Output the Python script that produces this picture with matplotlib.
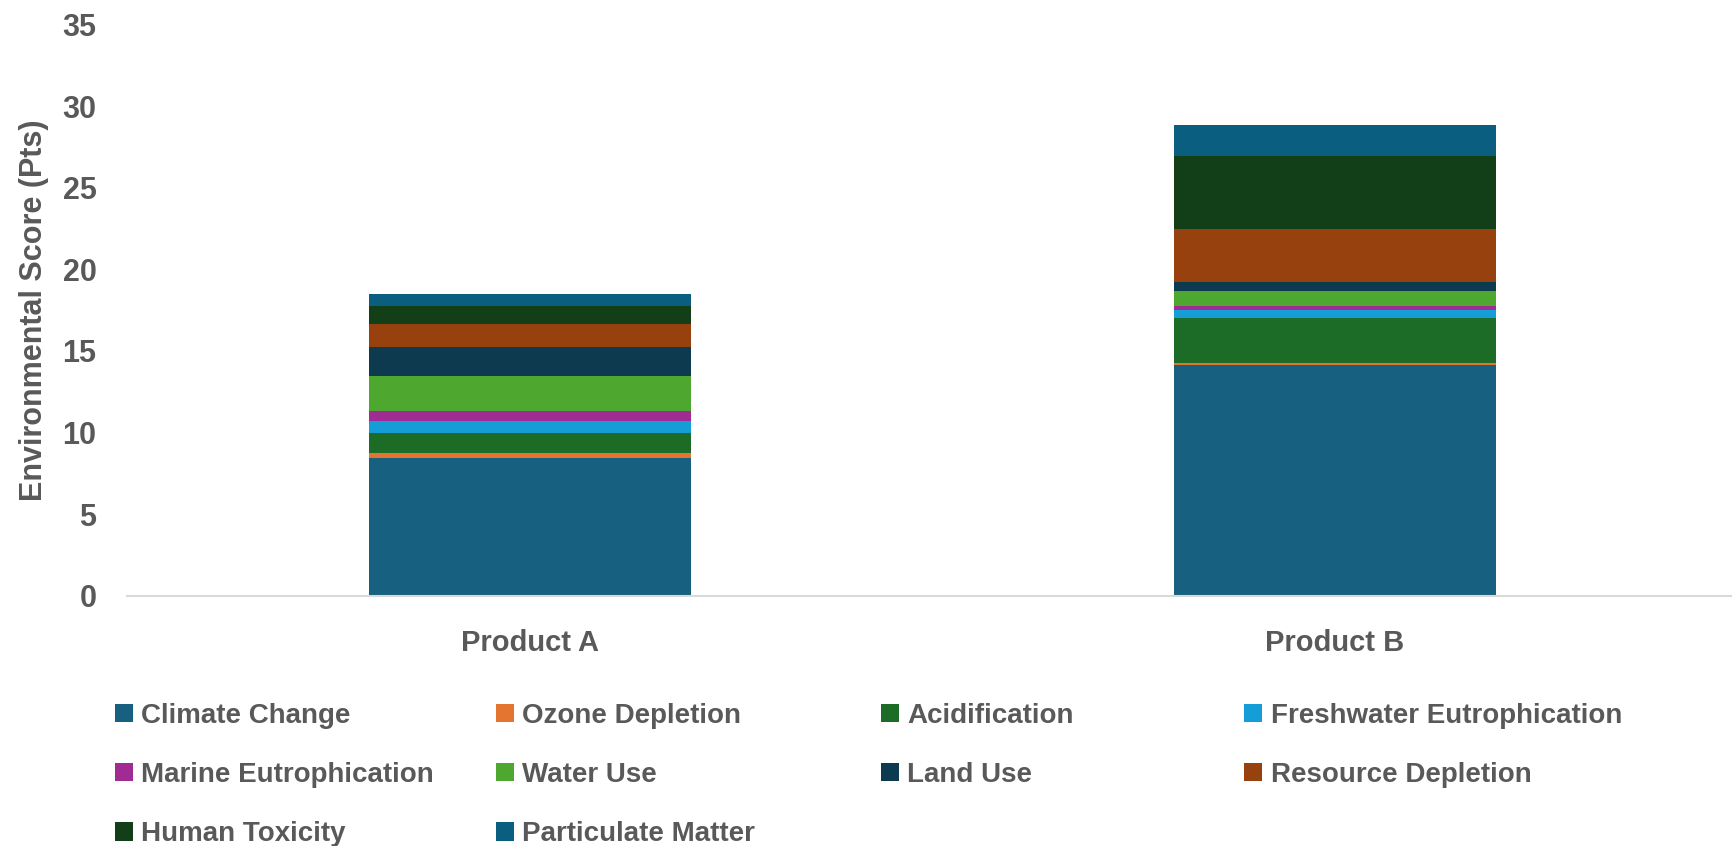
import matplotlib.pyplot as plt
import numpy as np

products = ['Product A', 'Product B']
categories = ['Climate Change', 'Ozone Depletion', 'Acidification', 'Freshwater Eutrophication',
              'Marine Eutrophication', 'Water Use', 'Land Use', 'Resource Depletion',
              'Human Toxicity', 'Particulate Matter']
product_a = [8.41, 0.34, 1.23, 0.71, 0.63, 2.15, 1.78, 1.37, 1.12, 0.73]
product_b = [14.12, 0.11, 2.76, 0.50, 0.25, 0.94, 0.51, 3.25, 4.51, 1.88]
colors = ['#17607F', '#E47530', '#1C6B27', '#149DD6', '#A02B93', '#4EA72E',
          '#0E3A50', '#97410F', '#123F17', '#0A5E80']

plt.rcParams['font.family'] = ['Liberation Sans', 'DejaVu Sans']
grey = '#595959'

fig = plt.figure(figsize=(17.32, 8.46), dpi=100)
ax = fig.add_axes([0.0733, 0.296, 0.93, 0.675])

x = np.arange(len(products))
bottom = np.zeros(len(products))
handles = []
for i, cat in enumerate(categories):
    vals = np.array([product_a[i], product_b[i]])
    h = ax.bar(x, vals, 0.4, bottom=bottom, color=colors[i], label=cat)
    handles.append(h)
    bottom += vals

ax.set_xlim(-0.5, 1.5)
ax.set_ylim(0, 35)
ax.set_yticks(range(0, 36, 5))
ax.set_xticks(x)
ax.set_xticklabels(products, fontsize=21, fontweight='bold', color=grey)
ax.tick_params(axis='y', length=0, pad=22, labelsize=22, labelcolor=grey)
ax.tick_params(axis='x', length=0, pad=24)
for lab in ax.get_yticklabels():
    lab.set_fontweight('bold')
for s in ['top', 'right', 'left']:
    ax.spines[s].set_visible(False)
ax.spines['bottom'].set_color('#d9d9d9')
ax.spines['bottom'].set_linewidth(1.5)
ax.set_ylabel('Environmental Score (Pts)', fontsize=22, fontweight='bold', color=grey, labelpad=10)

# legend: one column per group so columns line up like the original
col_x = [0.052, 0.272, 0.494, 0.704]
for j in range(4):
    idx = list(range(j, len(categories), 4))
    leg = fig.legend([handles[k] for k in idx], [categories[k] for k in idx],
                     loc='upper left', bbox_to_anchor=(col_x[j], 0.199),
                     frameon=False, ncol=1, handlelength=0.65, handleheight=0.65,
                     handletextpad=0.3, labelspacing=1.2,
                     prop={'weight': 'bold', 'size': 20})
    for t in leg.get_texts():
        t.set_color(grey)

fig.savefig('out.png', dpi=100)
